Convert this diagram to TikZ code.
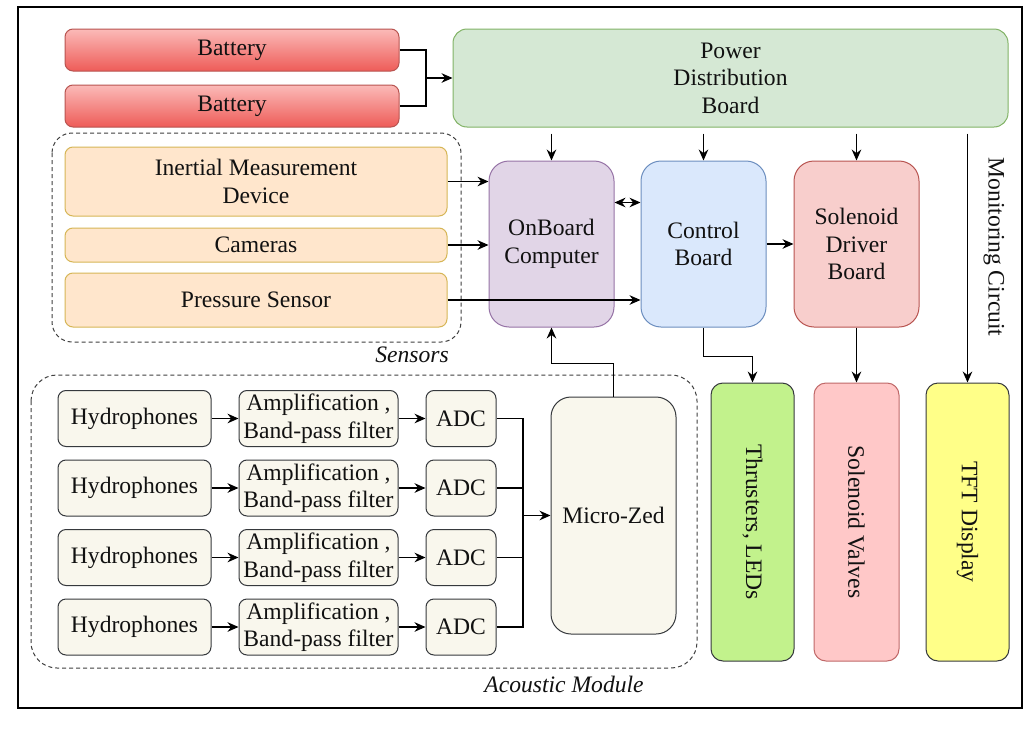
\documentclass[tikz,border=0pt]{standalone}
\usepackage{fontspec}
\setmainfont{Liberation Serif}
\newfontfamily\tnr{Liberation Serif}
\usetikzlibrary{arrows.meta,calc}
\newcommand{\fsz}{\tnr\fontsize{11.8}{13.7}\selectfont}
\definecolor{pdbfill}{HTML}{D5E8D4}\definecolor{pdbline}{HTML}{82B366}
\definecolor{senfill}{HTML}{FFE6CC}\definecolor{senline}{HTML}{D6B656}
\definecolor{obcfill}{HTML}{E1D5E7}\definecolor{obcline}{HTML}{9673A6}
\definecolor{ctlfill}{HTML}{DAE8FC}\definecolor{ctlline}{HTML}{6C8EBF}
\definecolor{sdbfill}{HTML}{F8CECC}\definecolor{sdbline}{HTML}{B85450}
\definecolor{thrfill}{HTML}{C2F28C}\definecolor{darkline}{HTML}{36393D}
\definecolor{svfill}{HTML}{FFC8C8}\definecolor{svline}{HTML}{C06868}
\definecolor{tftfill}{HTML}{FFFF88}
\definecolor{acfill}{HTML}{F9F7ED}
\definecolor{battop}{HTML}{FBBAB8}\definecolor{batbot}{HTML}{EE5C58}
\definecolor{txt}{HTML}{111111}
\tikzset{
  box/.style={draw, line width=0.5pt, rounded corners=4pt, align=center, inner sep=0pt, font=\fsz, text=txt},
  bat/.style={box, draw=sdbline, top color=battop, bottom color=batbot, minimum width=167pt, minimum height=21pt},
  sen/.style={box, draw=senline, fill=senfill, minimum width=191pt},
  big/.style={box, rounded corners=10pt, minimum width=62.5pt, minimum height=83pt},
  tall/.style={box, rounded corners=6pt, minimum height=139pt},
  ac/.style={box, draw=darkline, fill=acfill, minimum height=28pt},
  arr/.style={line width=0.6pt, -{Stealth[length=5.5pt,width=4.8pt]}},
  arrb/.style={line width=0.6pt, {Stealth[length=5.5pt,width=4.8pt]}-{Stealth[length=5.5pt,width=4.8pt]}},
  ln/.style={line width=0.6pt},
  grp/.style={draw=black!75, line width=0.5pt, dash pattern=on 2pt off 1.5pt},
  lbl/.style={font=\fsz\itshape, text=txt, inner sep=0pt}
}
\begin{document}
\begin{tikzpicture}[x=0.5pt,y=-0.5pt]
\useasboundingbox[fill=white] (0,0) rectangle (1035,734);
\draw[line width=0.8pt] (18,7) rectangle (1022,708);
% groups
\draw[grp, rounded corners=10pt] (52,133) rectangle (461,342);
\draw[grp, rounded corners=13pt] (31,375) rectangle (697,668);
\node[lbl] (senlbl) at (412,355) {Sensors};
\node[lbl] (aclbl) at (564,684) {Acoustic Module};
% power
\node[bat] (bat1) at (232,50) {Battery};
\node[bat] (bat2) at (232,106) {Battery};
\node[box, draw=pdbline, fill=pdbfill, rounded corners=7pt, minimum width=277.5pt, minimum height=49pt] (pdb) at (730.5,78) {Power\\Distribution\\Board};
% sensors
\node[sen, minimum height=34.5pt] (imu) at (256,181.5) {Inertial Measurement\\Device};
\node[sen, minimum height=17pt] (cam) at (256,245) {Cameras};
\node[sen, minimum height=27pt] (pres) at (256,300) {Pressure Sensor};
% boards
\node[big, draw=obcline, fill=obcfill] (obc) at (551.5,244) {OnBoard\\Computer};
\node[big, draw=ctlline, fill=ctlfill] (ctrl) at (703.5,244) {Control\\Board};
\node[big, draw=sdbline, fill=sdbfill] (sdb) at (856.5,244) {Solenoid\\Driver\\Board};
% outputs
\node[tall, draw=darkline, fill=thrfill, minimum width=41.5pt] (thr) at (752.5,522) {\rotatebox[origin=c]{-90}{Thrusters, LEDs}};
\node[tall, draw=svline, fill=svfill, minimum width=42.5pt] (sv) at (856.5,522) {\rotatebox[origin=c]{-90}{Solenoid Valves}};
\node[tall, draw=darkline, fill=tftfill, minimum width=41.5pt] (tft) at (967.5,522) {\rotatebox[origin=c]{-90}{TFT Display}};
\node[font=\fsz, text=txt, rotate=-90, inner sep=0pt] (mon) at (994,247) {Monitoring Circuit};
% acoustic
\foreach \i/\y in {1/418.5,2/488,3/557.5,4/627}{
  \node[ac, minimum width=76.5pt] (hyd\i) at (134.5,\y) {Hydrophones};
  \node[ac, minimum width=79.5pt] (amp\i) at (318.5,\y) {Amplification ,\\Band-pass filter};
  \node[ac, minimum width=35pt] (adc\i) at (461,\y) {ADC};
  \draw[arr] (hyd\i) -- (amp\i);
  \draw[arr] (amp\i) -- (adc\i);
}
\node[ac, minimum width=62.5pt, minimum height=118.5pt, rounded corners=10pt] (mz) at (613.5,515.5) {Micro-Zed};
\coordinate (bus) at (523,515.5);
\draw[ln] (adc1.east) -| (bus) |- (adc4.east);
\draw[ln] (adc2.east) -| (bus);
\draw[ln] (adc3.east) -| (bus);
\draw[arr] (bus) -- (mz.west);
\draw[arr] (mz.north) |- ($(obc.south)+(0,36)$) -- (obc.south);
% battery to pdb
\coordinate (bj) at (426,78);
\draw[ln] (bat1.east) -| (bj) |- (bat2.east);
\draw[arr] (bj) -- (pdb.west);
% pdb down
\draw[arr] ($(pdb.south -| obc.north)+(0,6)$) -- (obc.north);
\draw[arr] ($(pdb.south -| ctrl.north)+(0,6)$) -- (ctrl.north);
\draw[arr] ($(pdb.south -| sdb.north)+(0,6)$) -- (sdb.north);
\draw[arr] ($(pdb.south -| tft.north)+(0,6)$) -- (tft.north);
% sensors to boards
\draw[arr] (imu.east) -- (imu.east -| obc.west);
\draw[arr] (cam.east) -- (cam.east -| obc.west);
\draw[arr] (pres.east) -- (pres.east -| ctrl.west);
\draw[arrb] ($(obc.north east)+(0,42)$) -- ($(ctrl.north west)+(0,42)$);
\draw[arr] (ctrl.east) -- (sdb.west);
\draw[arr] (ctrl.south) |- ($(thr.north)+(0,-26)$) -- (thr.north);
\draw[arr] (sdb.south) -- (sv.north);
\end{tikzpicture}
\end{document}
